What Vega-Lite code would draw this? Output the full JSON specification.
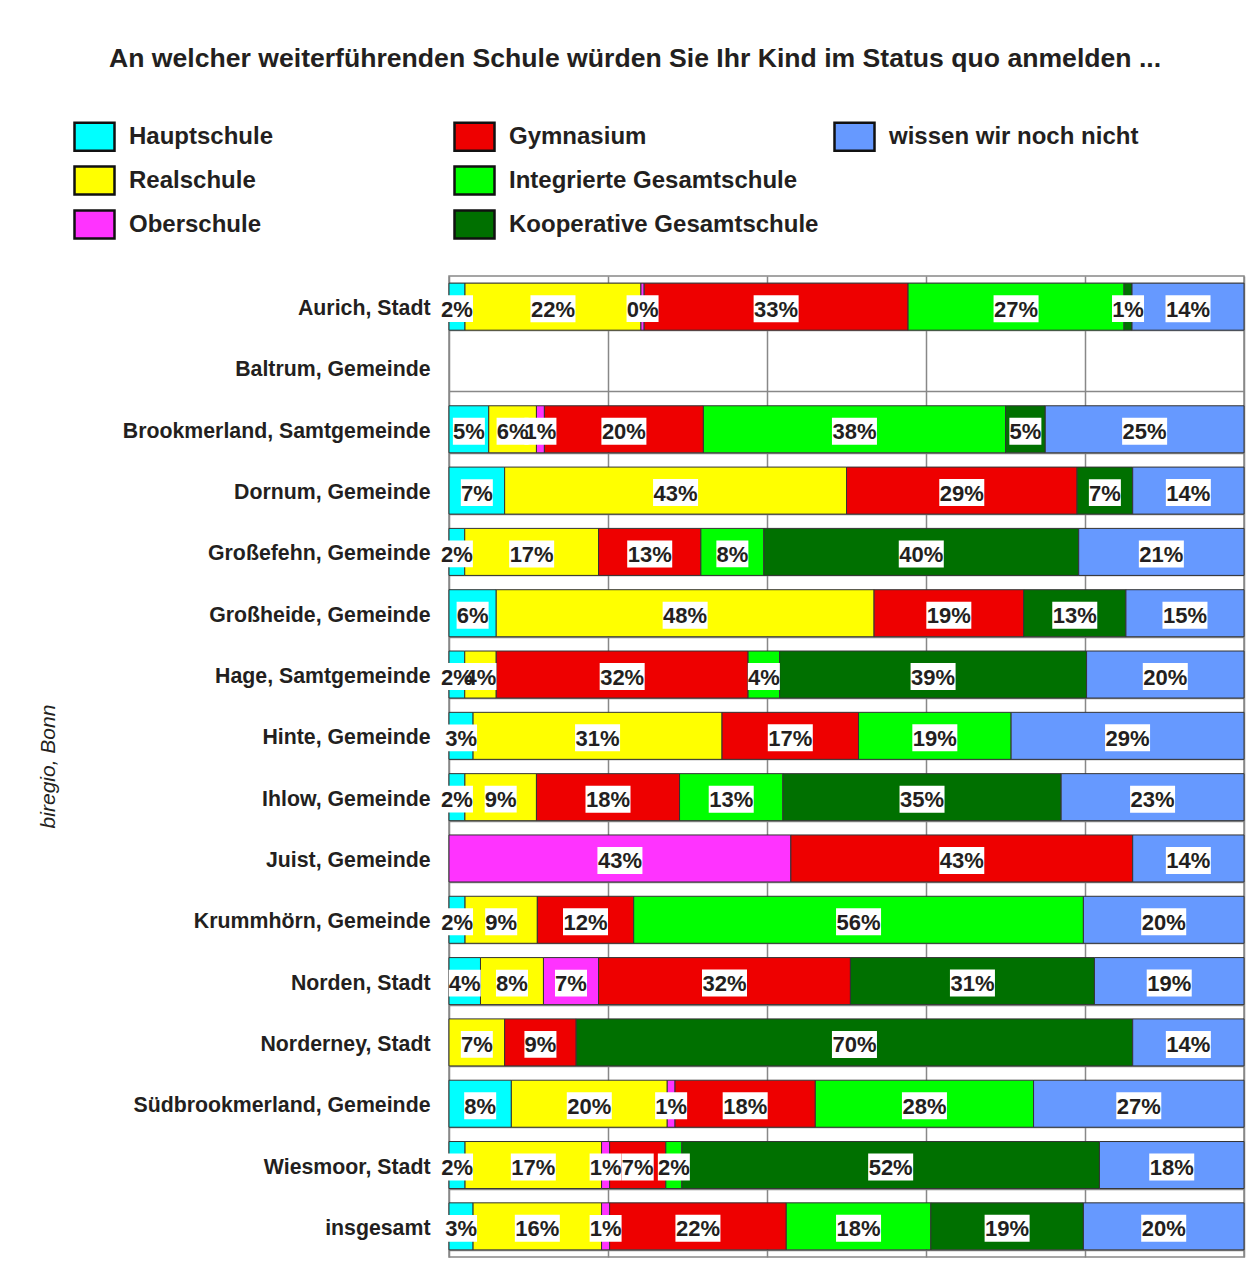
{
  "$schema": "https://vega.github.io/schema/vega-lite/v6.json",
  "autosize": {"type": "none"},
  "width": 795,
  "height": 981,
  "padding": {"left": 449, "top": 276, "right": 12, "bottom": 16},
  "background": "white",
  "config": {
    "font": "Liberation Sans",
    "view": {"stroke": "#888888", "strokeWidth": 1.5}
  },
  "title": {
    "text": "An welcher weiterführenden Schule würden Sie Ihr Kind im Status quo anmelden ...",
    "fontSize": 26.6,
    "fontWeight": "bold",
    "color": "#231F20",
    "anchor": "start",
    "frame": "group",
    "baseline": "alphabetic",
    "dx": -340,
    "offset": 21
  },
  "data": {
    "values": [
      {"o": "Aurich, Stadt", "s": "Hauptschule", "v": 2},
      {"o": "Aurich, Stadt", "s": "Realschule", "v": 22},
      {"o": "Aurich, Stadt", "s": "Oberschule", "v": 0.4},
      {"o": "Aurich, Stadt", "s": "Gymnasium", "v": 33},
      {"o": "Aurich, Stadt", "s": "Integrierte Gesamtschule", "v": 27},
      {"o": "Aurich, Stadt", "s": "Kooperative Gesamtschule", "v": 1},
      {"o": "Aurich, Stadt", "s": "wissen wir noch nicht", "v": 14},
      {"o": "Brookmerland, Samtgemeinde", "s": "Hauptschule", "v": 5},
      {"o": "Brookmerland, Samtgemeinde", "s": "Realschule", "v": 6},
      {"o": "Brookmerland, Samtgemeinde", "s": "Oberschule", "v": 1},
      {"o": "Brookmerland, Samtgemeinde", "s": "Gymnasium", "v": 20},
      {"o": "Brookmerland, Samtgemeinde", "s": "Integrierte Gesamtschule", "v": 38},
      {"o": "Brookmerland, Samtgemeinde", "s": "Kooperative Gesamtschule", "v": 5},
      {"o": "Brookmerland, Samtgemeinde", "s": "wissen wir noch nicht", "v": 25},
      {"o": "Dornum, Gemeinde", "s": "Hauptschule", "v": 7},
      {"o": "Dornum, Gemeinde", "s": "Realschule", "v": 43},
      {"o": "Dornum, Gemeinde", "s": "Gymnasium", "v": 29},
      {"o": "Dornum, Gemeinde", "s": "Kooperative Gesamtschule", "v": 7},
      {"o": "Dornum, Gemeinde", "s": "wissen wir noch nicht", "v": 14},
      {"o": "Großefehn, Gemeinde", "s": "Hauptschule", "v": 2},
      {"o": "Großefehn, Gemeinde", "s": "Realschule", "v": 17},
      {"o": "Großefehn, Gemeinde", "s": "Gymnasium", "v": 13},
      {"o": "Großefehn, Gemeinde", "s": "Integrierte Gesamtschule", "v": 8},
      {"o": "Großefehn, Gemeinde", "s": "Kooperative Gesamtschule", "v": 40},
      {"o": "Großefehn, Gemeinde", "s": "wissen wir noch nicht", "v": 21},
      {"o": "Großheide, Gemeinde", "s": "Hauptschule", "v": 6},
      {"o": "Großheide, Gemeinde", "s": "Realschule", "v": 48},
      {"o": "Großheide, Gemeinde", "s": "Gymnasium", "v": 19},
      {"o": "Großheide, Gemeinde", "s": "Kooperative Gesamtschule", "v": 13},
      {"o": "Großheide, Gemeinde", "s": "wissen wir noch nicht", "v": 15},
      {"o": "Hage, Samtgemeinde", "s": "Hauptschule", "v": 2},
      {"o": "Hage, Samtgemeinde", "s": "Realschule", "v": 4},
      {"o": "Hage, Samtgemeinde", "s": "Gymnasium", "v": 32},
      {"o": "Hage, Samtgemeinde", "s": "Integrierte Gesamtschule", "v": 4},
      {"o": "Hage, Samtgemeinde", "s": "Kooperative Gesamtschule", "v": 39},
      {"o": "Hage, Samtgemeinde", "s": "wissen wir noch nicht", "v": 20},
      {"o": "Hinte, Gemeinde", "s": "Hauptschule", "v": 3},
      {"o": "Hinte, Gemeinde", "s": "Realschule", "v": 31},
      {"o": "Hinte, Gemeinde", "s": "Gymnasium", "v": 17},
      {"o": "Hinte, Gemeinde", "s": "Integrierte Gesamtschule", "v": 19},
      {"o": "Hinte, Gemeinde", "s": "wissen wir noch nicht", "v": 29},
      {"o": "Ihlow, Gemeinde", "s": "Hauptschule", "v": 2},
      {"o": "Ihlow, Gemeinde", "s": "Realschule", "v": 9},
      {"o": "Ihlow, Gemeinde", "s": "Gymnasium", "v": 18},
      {"o": "Ihlow, Gemeinde", "s": "Integrierte Gesamtschule", "v": 13},
      {"o": "Ihlow, Gemeinde", "s": "Kooperative Gesamtschule", "v": 35},
      {"o": "Ihlow, Gemeinde", "s": "wissen wir noch nicht", "v": 23},
      {"o": "Juist, Gemeinde", "s": "Oberschule", "v": 43},
      {"o": "Juist, Gemeinde", "s": "Gymnasium", "v": 43},
      {"o": "Juist, Gemeinde", "s": "wissen wir noch nicht", "v": 14},
      {"o": "Krummhörn, Gemeinde", "s": "Hauptschule", "v": 2},
      {"o": "Krummhörn, Gemeinde", "s": "Realschule", "v": 9},
      {"o": "Krummhörn, Gemeinde", "s": "Gymnasium", "v": 12},
      {"o": "Krummhörn, Gemeinde", "s": "Integrierte Gesamtschule", "v": 56},
      {"o": "Krummhörn, Gemeinde", "s": "wissen wir noch nicht", "v": 20},
      {"o": "Norden, Stadt", "s": "Hauptschule", "v": 4},
      {"o": "Norden, Stadt", "s": "Realschule", "v": 8},
      {"o": "Norden, Stadt", "s": "Oberschule", "v": 7},
      {"o": "Norden, Stadt", "s": "Gymnasium", "v": 32},
      {"o": "Norden, Stadt", "s": "Kooperative Gesamtschule", "v": 31},
      {"o": "Norden, Stadt", "s": "wissen wir noch nicht", "v": 19},
      {"o": "Norderney, Stadt", "s": "Realschule", "v": 7},
      {"o": "Norderney, Stadt", "s": "Gymnasium", "v": 9},
      {"o": "Norderney, Stadt", "s": "Kooperative Gesamtschule", "v": 70},
      {"o": "Norderney, Stadt", "s": "wissen wir noch nicht", "v": 14},
      {"o": "Südbrookmerland, Gemeinde", "s": "Hauptschule", "v": 8},
      {"o": "Südbrookmerland, Gemeinde", "s": "Realschule", "v": 20},
      {"o": "Südbrookmerland, Gemeinde", "s": "Oberschule", "v": 1},
      {"o": "Südbrookmerland, Gemeinde", "s": "Gymnasium", "v": 18},
      {"o": "Südbrookmerland, Gemeinde", "s": "Integrierte Gesamtschule", "v": 28},
      {"o": "Südbrookmerland, Gemeinde", "s": "wissen wir noch nicht", "v": 27},
      {"o": "Wiesmoor, Stadt", "s": "Hauptschule", "v": 2},
      {"o": "Wiesmoor, Stadt", "s": "Realschule", "v": 17},
      {"o": "Wiesmoor, Stadt", "s": "Oberschule", "v": 1},
      {"o": "Wiesmoor, Stadt", "s": "Gymnasium", "v": 7},
      {"o": "Wiesmoor, Stadt", "s": "Integrierte Gesamtschule", "v": 2},
      {"o": "Wiesmoor, Stadt", "s": "Kooperative Gesamtschule", "v": 52},
      {"o": "Wiesmoor, Stadt", "s": "wissen wir noch nicht", "v": 18},
      {"o": "insgesamt", "s": "Hauptschule", "v": 3},
      {"o": "insgesamt", "s": "Realschule", "v": 16},
      {"o": "insgesamt", "s": "Oberschule", "v": 1},
      {"o": "insgesamt", "s": "Gymnasium", "v": 22},
      {"o": "insgesamt", "s": "Integrierte Gesamtschule", "v": 18},
      {"o": "insgesamt", "s": "Kooperative Gesamtschule", "v": 19},
      {"o": "insgesamt", "s": "wissen wir noch nicht", "v": 20}
    ]
  },
  "transform": [
    {"calculate": "indexof(['Hauptschule','Realschule','Oberschule','Gymnasium','Integrierte Gesamtschule','Kooperative Gesamtschule','wissen wir noch nicht'], datum.s)", "as": "k"},
    {"stack": "v", "groupby": ["o"], "sort": [{"field": "k", "order": "ascending"}], "offset": "normalize", "as": ["x0", "x1"]},
    {"calculate": "(datum.x0 + datum.x1) / 2", "as": "xm"},
    {"calculate": "format(datum.v, '.0f') + '%'", "as": "lab"}
  ],
  "encoding": {
    "y": {
      "field": "o",
      "type": "nominal",
      "sort": null,
      "scale": {
        "domain": ["Aurich, Stadt", "Baltrum, Gemeinde", "Brookmerland, Samtgemeinde", "Dornum, Gemeinde", "Großefehn, Gemeinde", "Großheide, Gemeinde", "Hage, Samtgemeinde", "Hinte, Gemeinde", "Ihlow, Gemeinde", "Juist, Gemeinde", "Krummhörn, Gemeinde", "Norden, Stadt", "Norderney, Stadt", "Südbrookmerland, Gemeinde", "Wiesmoor, Stadt", "insgesamt"],
        "paddingInner": 0.233,
        "paddingOuter": 0.1165
      },
      "axis": {
        "title": "biregio, Bonn",
        "titleFont": "Liberation Sans",
        "titleFontSize": 21,
        "titleFontStyle": "italic",
        "titleFontWeight": "normal",
        "titleColor": "#231F20",
        "titleAngle": -90,
        "titleX": -401,
        "titleY": 490,
        "titleAlign": "center",
        "titleBaseline": "middle",
        "labelFontSize": 21.3,
        "labelFontWeight": "bold",
        "labelColor": "#231F20",
        "labelPadding": 19,
        "labelOffset": 2,
        "labelLimit": 420,
        "ticks": false,
        "domain": false,
        "grid": true,
        "tickBand": "extent",
        "gridColor": "#888888",
        "gridWidth": 1.5
      }
    }
  },
  "layer": [
    {
      "mark": {"type": "bar", "stroke": "#333333", "strokeWidth": 1},
      "encoding": {
        "x": {
          "field": "x0",
          "type": "quantitative",
          "scale": {"domain": [0, 1], "nice": false, "zero": false},
          "axis": {
            "title": null,
            "labels": false,
            "ticks": false,
            "domain": false,
            "grid": true,
            "values": [0, 0.2, 0.4, 0.6, 0.8, 1],
            "gridColor": "#888888",
            "gridWidth": 1.5
          }
        },
        "x2": {"field": "x1"},
        "color": {
          "field": "s",
          "type": "nominal",
          "scale": {
            "domain": ["Hauptschule", "Realschule", "Oberschule", "Gymnasium", "Integrierte Gesamtschule", "Kooperative Gesamtschule", "wissen wir noch nicht", " "],
            "range": ["#00FFFF", "#FFFF00", "#FF33FF", "#EE0000", "#00FF00", "#007000", "#6699FF", "rgba(0,0,0,0)"]
          },
          "legend": {
            "title": null,
            "orient": "none",
            "legendX": -376,
            "legendY": -161,
            "direction": "vertical",
            "columns": 3,
            "gridAlign": "all",
            "columnPadding": 10,
            "rowPadding": 3,
            "symbolType": "M-1,-0.7H1V0.7H-1Z",
            "symbolSize": 1600,
            "symbolStrokeColor": "#111111",
            "symbolStrokeWidth": 2.5,
            "symbolOpacity": 1,
            "labelFont": "Liberation Sans",
            "labelFontSize": 24,
            "labelFontWeight": "bold",
            "labelColor": "#231F20",
            "labelOffset": 13,
            "labelLimit": 400,
            "encode": {
              "symbols": {"update": {"strokeOpacity": {"signal": "datum.value === ' ' ? 0 : 1"}}}
            }
          }
        }
      }
    },
    {
      "mark": {"type": "point", "filled": true, "fill": "white", "opacity": 1, "strokeWidth": 0, "yOffset": 2},
      "encoding": {
        "x": {"field": "xm", "type": "quantitative"},
        "shape": {"condition": {"test": "datum.v >= 9.5", "value": "M-1,-0.6H1V0.6H-1Z"}, "value": "M-1,-0.84H1V0.84H-1Z"},
        "size": {"condition": {"test": "datum.v >= 9.5", "value": 2025}, "value": 1024}
      }
    },
    {
      "mark": {"type": "text", "fontSize": 22, "fontWeight": "bold", "color": "#231F20", "font": "Liberation Sans", "baseline": "middle", "align": "center", "dy": 3},
      "encoding": {
        "x": {"field": "xm", "type": "quantitative"},
        "text": {"field": "lab"}
      }
    }
  ]
}
